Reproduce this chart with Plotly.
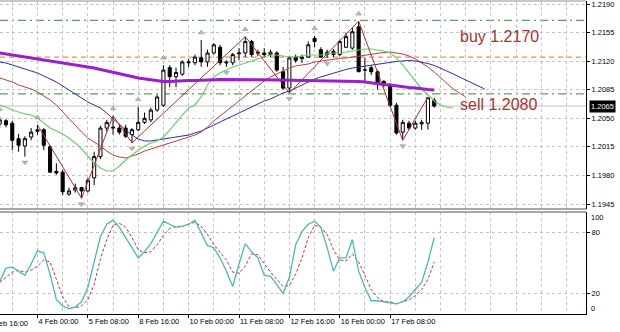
import plotly.graph_objects as go

# ---------------- data ----------------
opens = [1.2043,1.2047,1.2044,1.2025,1.2016,1.2027,1.2034,1.2036,1.2015,1.1985,
 1.1984,1.1957,1.1962,1.1965,1.1961,1.1977,1.2003,1.2038,1.2038,1.2038,
 1.2038,1.2030,1.2036,1.2045,1.2048,1.2060,1.2066,1.2112,1.2101,1.2104,
 1.2118,1.2118,1.2124,1.2119,1.2130,1.2137,1.2119,1.2118,1.2129,1.2130,
 1.2144,1.2131,1.2130,1.2128,1.2130,1.2107,1.2087,1.2125,1.2123,1.2125,
 1.2148,1.2134,1.2128,1.2132,1.2128,1.2137,1.2136,1.2162,1.2109,1.2112,
 1.2107,1.2095,1.2091,1.2066,1.2033,1.2044,1.2038,1.2043,1.2044,1.2072]
highs = [1.2052,1.2049,1.2047,1.2031,1.2028,1.2038,1.2042,1.2038,1.2017,1.1995,
 1.1987,1.1965,1.1970,1.1966,1.1977,1.2009,1.2041,1.2048,1.2053,1.2043,
 1.2042,1.2038,1.2064,1.2057,1.2063,1.2079,1.2115,1.2115,1.2112,1.2121,
 1.2123,1.2128,1.2146,1.2134,1.2142,1.2140,1.2121,1.2130,1.2136,1.2150,
 1.2146,1.2134,1.2136,1.2134,1.2132,1.2113,1.2126,1.2128,1.2128,1.2144,
 1.2151,1.2137,1.2134,1.2135,1.2146,1.2155,1.2161,1.2169,1.2124,1.2115,
 1.2109,1.2097,1.2093,1.2069,1.2048,1.2047,1.2047,1.2048,1.2076,1.2075]
lows = [1.2038,1.2039,1.2011,1.2009,1.2003,1.2023,1.2030,1.2011,1.1983,1.1981,
 1.1956,1.1955,1.1959,1.1952,1.1959,1.1968,1.2000,1.2034,1.2030,1.2030,
 1.2026,1.2020,1.2034,1.2043,1.2045,1.2058,1.2064,1.2088,1.2088,1.2102,
 1.2113,1.2115,1.2113,1.2113,1.2128,1.2115,1.2113,1.2115,1.2121,1.2125,
 1.2125,1.2126,1.2124,1.2125,1.2107,1.2085,1.2081,1.2118,1.2118,1.2124,
 1.2137,1.2124,1.2124,1.2125,1.2126,1.2136,1.2134,1.2107,1.2094,1.2103,
 1.2085,1.2088,1.2064,1.2030,1.2023,1.2036,1.2036,1.2036,1.2036,1.2063]
closes = [1.2048,1.2042,1.2023,1.2017,1.2025,1.2033,1.2036,1.2017,1.1984,1.1983,
 1.1960,1.1961,1.1965,1.1961,1.1974,1.2003,1.2038,1.2045,1.2039,1.2033,
 1.2028,1.2036,1.2045,1.2050,1.2060,1.2076,1.2109,1.2101,1.2106,1.2119,
 1.2119,1.2125,1.2119,1.2130,1.2140,1.2118,1.2118,1.2128,1.2130,1.2144,
 1.2128,1.2130,1.2128,1.2131,1.2109,1.2087,1.2124,1.2121,1.2125,1.2140,
 1.2144,1.2125,1.2131,1.2128,1.2144,1.2150,1.2156,1.2107,1.2109,1.2107,
 1.2093,1.2093,1.2066,1.2032,1.2045,1.2038,1.2044,1.2045,1.2075,1.2065]

ma_purple = [1.21300,1.21288,1.21275,1.21263,1.21251,1.21239,1.21226,1.21214,1.21202,1.21190,
 1.21177,1.21165,1.21153,1.21141,1.21128,1.21116,1.21098,1.21079,1.21067,1.21049,
 1.21030,1.21012,1.20994,1.20981,1.20969,1.20957,1.20951,1.20951,1.20957,1.20957,
 1.20963,1.20963,1.20969,1.20970,1.20972,1.20974,1.20975,1.20976,1.20975,1.20974,
 1.20973,1.20972,1.20971,1.20970,1.20969,1.20968,1.20967,1.20966,1.20965,1.20963,
 1.20962,1.20961,1.20960,1.20959,1.20958,1.20957,1.20955,1.20951,1.20945,1.20932,
 1.20920,1.20914,1.20908,1.20896,1.20883,1.20877,1.20871,1.20859,1.20853,1.20847]
jaw_blue = [1.21190,1.21177,1.21153,1.21128,1.21104,1.21079,1.21055,1.21018,1.20981,1.20945,
 1.20896,1.20847,1.20798,1.20748,1.20699,1.20663,1.20626,1.20565,1.20491,1.20430,
 1.20356,1.20295,1.20246,1.20222,1.20222,1.20234,1.20246,1.20258,1.20271,1.20283,
 1.20295,1.20320,1.20344,1.20381,1.20418,1.20454,1.20491,1.20528,1.20565,1.20602,
 1.20638,1.20675,1.20712,1.20736,1.20773,1.20810,1.20834,1.20871,1.20908,1.20945,
 1.20981,1.21006,1.21030,1.21055,1.21079,1.21098,1.21116,1.21128,1.21141,1.21153,
 1.21165,1.21177,1.21183,1.21196,1.21202,1.21208,1.21202,1.21190,1.21171,1.21147,
 1.21116,1.21079,1.21043,1.21006,1.20969,1.20932,1.20896,1.20859]
teeth_red = [1.20994,1.20969,1.20945,1.20908,1.20883,1.20859,1.20822,1.20773,1.20724,1.20663,
 1.20577,1.20491,1.20405,1.20332,1.20258,1.20209,1.20160,1.20099,1.20050,1.20026,
 1.20014,1.20038,1.20062,1.20099,1.20124,1.20148,1.20173,1.20197,1.20222,1.20246,
 1.20271,1.20295,1.20332,1.20393,1.20467,1.20528,1.20589,1.20650,1.20712,1.20773,
 1.20834,1.20896,1.20957,1.21006,1.21043,1.21079,1.21116,1.21141,1.21153,1.21165,
 1.21190,1.21202,1.21214,1.21226,1.21233,1.21239,1.21251,1.21263,1.21275,1.21288,
 1.21300,1.21306,1.21312,1.21300,1.21288,1.21263,1.21226,1.21177,1.21128,1.21067,
 1.20994,1.20920,1.20859,1.20810,1.20761]
lips_green = [1.20663,1.20638,1.20602,1.20577,1.20553,1.20540,1.20504,1.20442,1.20381,1.20344,
 1.20307,1.20258,1.20197,1.20124,1.20038,1.19952,1.19891,1.19854,1.19854,1.19915,
 1.19989,1.20050,1.20111,1.20160,1.20197,1.20222,1.20271,1.20356,1.20454,1.20540,
 1.20626,1.20663,1.20761,1.20908,1.21006,1.21055,1.21091,1.21128,1.21153,1.21177,
 1.21202,1.21226,1.21251,1.21275,1.21275,1.21263,1.21251,1.21251,1.21263,1.21275,
 1.21275,1.21275,1.21288,1.21300,1.21300,1.21312,1.21324,1.21337,1.21349,1.21349,
 1.21337,1.21324,1.21300,1.21239,1.21153,1.21055,1.20957,1.20859,1.20785,1.20712,
 1.20663,1.20638,1.20626]

zigzag_idx = [6, 13, 18, 21, 39, 46, 57, 64, 68]
zigzag_is_high = [1, 0, 1, 0, 1, 0, 1, 0, 1]
fractal_up_idx = [0, 6, 18, 22, 26, 32, 39, 50, 57]
fractal_down_idx = [4, 13, 21, 36, 46, 52, 64]

stoch_main = [32,45,46,42,38,49,62,60,39,14,
 8,5,7,12,26,51,76,88,92,85,
 75,65,55,61,69,80,91,88,85,86,
 88,92,79,67,65,55,42,27,49,69,
 61,55,38,37,29,20,36,68,81,88,
 91,85,65,42,55,55,73,42,26,13,
 13,12,11,10,12,17,24,31,51,75]
stoch_signal = [31,36,41,43,41,43,47,53,51,34,
 17,7,6,8,14,29,54,73,87,89,
 85,75,63,60,61,68,77,84,86,86,
 88,90,86,78,68,61,53,41,40,47,
 59,58,49,41,34,27,28,39,55,75,
 87,85,78,63,53,52,59,51,38,24,
 16,12,12,10,12,14,18,24,34,51]

buy_level = 1.2170
sell_level = 1.2080
mid_level = 1.2125
price_ticks = [1.1945, 1.1980, 1.2015, 1.2050, 1.2085, 1.2120, 1.2155, 1.2190]
stoch_ticks = [20, 80]
date_tick_idx = [-2, 6, 14, 22, 30, 38, 46, 54, 62]
date_tick_text = ["2 Feb 16:00", "4 Feb 00:00", "5 Feb 08:00", "8 Feb 16:00", "10 Feb 00:00",
                  "11 Feb 08:00", "12 Feb 16:00", "16 Feb 00:00", "17 Feb 08:00"]

# ---------------- figure ----------------
FONT = "Liberation Sans, Arial, sans-serif"
n = len(closes)
xi = list(range(n))
GRID = "#c4c4c4"
TF = dict(family=FONT, size=7.5, color="black")

fig = go.Figure()

fig.add_trace(go.Candlestick(
    x=xi, open=opens, high=highs, low=lows, close=closes,
    increasing=dict(line=dict(color="black", width=1), fillcolor="white"),
    decreasing=dict(line=dict(color="black", width=1), fillcolor="black"),
    whiskerwidth=0, xaxis="x", yaxis="y", showlegend=False, hoverinfo="skip"))

fig.add_trace(go.Scatter(x=list(range(len(jaw_blue))), y=jaw_blue, mode="lines",
                         line=dict(color="#2e2e9e", width=1), xaxis="x", yaxis="y"))
fig.add_trace(go.Scatter(x=list(range(len(teeth_red))), y=teeth_red, mode="lines",
                         line=dict(color="#b84040", width=1), xaxis="x", yaxis="y"))
fig.add_trace(go.Scatter(x=list(range(len(lips_green))), y=lips_green, mode="lines",
                         line=dict(color="#6ccf6c", width=1.2), xaxis="x", yaxis="y"))
fig.add_trace(go.Scatter(x=xi, y=ma_purple, mode="lines",
                         line=dict(color="#9b1fd1", width=3), xaxis="x", yaxis="y"))

zz_y = [highs[i] if h else lows[i] for i, h in zip(zigzag_idx, zigzag_is_high)]
fig.add_trace(go.Scatter(x=zigzag_idx, y=zz_y, mode="lines",
                         line=dict(color="#a83232", width=1), xaxis="x", yaxis="y"))

up_off = 0.0009
dn_off = 0.0007
fig.add_trace(go.Scatter(x=fractal_up_idx, y=[highs[i] + up_off for i in fractal_up_idx],
                         mode="markers", marker=dict(symbol="triangle-up", size=5, color="#b8b8b8",
                                                     line=dict(color="#8c8c8c", width=0.5)),
                         xaxis="x", yaxis="y"))
fig.add_trace(go.Scatter(x=fractal_down_idx, y=[lows[i] - dn_off for i in fractal_down_idx],
                         mode="markers", marker=dict(symbol="triangle-down", size=5, color="#b8b8b8",
                                                     line=dict(color="#8c8c8c", width=0.5)),
                         xaxis="x", yaxis="y"))

fig.add_trace(go.Scatter(x=xi, y=stoch_signal, mode="lines",
                         line=dict(color="#cc3333", width=1, dash="3px,2px"), xaxis="x2", yaxis="y2"))
fig.add_trace(go.Scatter(x=xi, y=stoch_main, mode="lines",
                         line=dict(color="#4cb8b8", width=1.3), xaxis="x2", yaxis="y2"))

# ---------------- layout ----------------
H_PLOT = 313.0
def pfrac(py):
    return (314.0 - py) / H_PLOT

xrange = [0.05, 93.1]
minor = dict(tick0=2, dtick=4, showgrid=True, gridcolor=GRID, griddash="dot", gridwidth=1, ticklen=0)

fig.update_layout(
    width=620, height=332,
    margin=dict(l=0, r=34, t=1, b=18, autoexpand=False),
    paper_bgcolor="white", plot_bgcolor="white",
    showlegend=False,
    font=dict(family=FONT, size=7.5, color="black"),
    xaxis=dict(domain=[0, 1], anchor="y", range=xrange, matches="x2", automargin=False,
               showticklabels=False, ticks="", tickvals=date_tick_idx,
               showgrid=True, gridcolor=GRID, griddash="dot", minor=minor,
               zeroline=False, rangeslider=dict(visible=False), showline=False),
    xaxis2=dict(domain=[0, 1], anchor="y2", range=xrange, automargin=False,
                tickvals=date_tick_idx, ticktext=date_tick_text, tickangle=0,
                ticks="outside", ticklen=3, tickcolor="black", tickwidth=1,
                ticklabelposition="outside right", ticklabeloverflow="allow",
                showgrid=True, gridcolor=GRID, griddash="dot", minor=minor,
                zeroline=False, showline=True, linecolor="black", linewidth=1,
                tickfont=TF),
    yaxis=dict(domain=[pfrac(209), 1], anchor="x", side="right", automargin=False,
               range=[1.21949 - 0.0001225 * 209, 1.21949 - 0.0001225 * 1],
               tickvals=price_ticks, ticktext=[f"{v:.4f}" for v in price_ticks],
               ticks="outside", ticklen=3, tickcolor="black", ticklabeloverflow="allow",
               showgrid=True, gridcolor=GRID, griddash="dot",
               zeroline=False, showline=True, linecolor="black", linewidth=1,
               tickfont=TF),
    yaxis2=dict(domain=[0, pfrac(212)], anchor="x2", side="right", range=[0, 100],
                automargin=False, ticklabeloverflow="allow",
                tickvals=stoch_ticks, ticktext=[str(v) for v in stoch_ticks],
                ticks="outside", ticklen=3, tickcolor="black",
                showgrid=True, gridcolor=GRID, griddash="dot",
                zeroline=False, showline=True, linecolor="black", linewidth=1,
                tickfont=TF),
)

shapes = []
for lvl, col, dash in [(buy_level, "#5f9e5f", "8px,4px,2px,4px"),
                       (mid_level, "#e8905a", "5px,4px"),
                       (sell_level, "#5f9e5f", "8px,4px,2px,4px")]:
    shapes.append(dict(type="line", xref="paper", x0=0, x1=1, yref="y", y0=lvl, y1=lvl,
                       line=dict(color=col, width=1.3, dash=dash), layer="below"))
shapes.append(dict(type="line", xref="paper", x0=0, x1=1, yref="y", y0=closes[-1], y1=closes[-1],
                   line=dict(color="#c0c0c0", width=1), layer="below"))
for py, col in [(209, "#505050"), (212, "#505050"), (1, "#909090")]:
    shapes.append(dict(type="line", xref="paper", x0=0, x1=1, yref="paper",
                       y0=pfrac(py), y1=pfrac(py), line=dict(color=col, width=1)))
fig.update_layout(shapes=shapes)

annotations = [
    dict(text=f"buy {buy_level:.4f}", xref="x", x=72.8, yref="y", y=1.21496,
         xanchor="left", yanchor="middle", showarrow=False,
         font=dict(family=FONT, size=16, color="#a8322d")),
    dict(text=f"sell {sell_level:.4f}", xref="x", x=72.8, yref="y", y=1.20663,
         xanchor="left", yanchor="middle", showarrow=False,
         font=dict(family=FONT, size=16, color="#a8322d")),
    dict(text=f"{closes[-1]:.4f}", xref="paper", x=1, xanchor="left", xshift=3,
         yref="y", y=closes[-1], yanchor="middle", showarrow=False,
         bgcolor="black", borderpad=1, font=dict(family=FONT, size=7.5, color="white")),
    dict(text="100", xref="paper", x=1, xanchor="left", xshift=3, yref="y2", y=95,
         yanchor="middle", showarrow=False, font=TF),
    dict(text="0", xref="paper", x=1, xanchor="left", xshift=3, yref="y2", y=5,
         yanchor="middle", showarrow=False, font=TF),
    # first (partly cut) date label, left of the visible range
    dict(text=date_tick_text[0], xref="paper", x=0, xshift=-14, xanchor="left",
         yref="paper", y=0, yanchor="top", yshift=-3, showarrow=False, font=TF),
]
fig.update_layout(annotations=annotations)

fig.write_html("out.html")
